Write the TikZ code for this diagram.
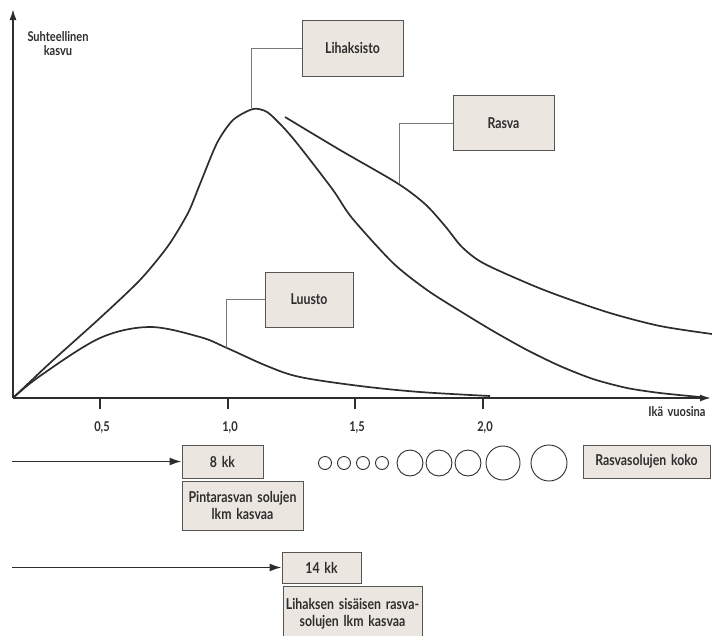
\documentclass[tikz,border=0pt]{standalone}
\usepackage{fontspec}
\setmainfont{Lato}[FakeStretch=0.82,WordSpace=1.6]
\usetikzlibrary{arrows.meta}
\definecolor{boxfill}{RGB}{236,230,225}
\definecolor{boxline}{RGB}{85,85,85}
\definecolor{ink}{RGB}{45,45,45}
\definecolor{leader}{RGB}{120,120,120}
\tikzset{
  lbl/.style={draw=boxline,line width=1pt,fill=boxfill,text=ink,inner sep=0pt,font=\bfseries\fontsize{15}{17}\selectfont,align=center},
  curve/.style={draw=ink,line width=1.7pt,line join=round},
  axis/.style={draw=ink,line width=1.6pt,-{Latex[length=11pt,width=7pt]}},
  lead/.style={draw=leader,line width=0.8pt},
  tick/.style={draw=ink,line width=1.2pt},
  small/.style={text=ink,font=\bfseries\fontsize{13.5}{16}\selectfont,align=center},
  cell/.style={draw=ink,line width=0.9pt,circle,inner sep=0pt},
  harrow/.style={draw=ink,line width=1.6pt,-{Latex[length=12pt,width=8pt]}}
}
\begin{document}
\begin{tikzpicture}[x=1pt,y=-1pt]
\useasboundingbox (0,0) rectangle (712,635);
\clip (0,0) rectangle (712,635);
% axes
\coordinate (o) at (13,398);
\coordinate (ytop) at (13,9);
\coordinate (xend) at (711,398);
\draw[axis] (o) -- (ytop);
\draw[axis] (o) -- (xend);
% ticks
\foreach \x/\t/\n in {100/{0,5}/a,228/{1,0}/b,355/{1,5}/c,483/{2,0}/d}{
  \coordinate (t\n) at (\x,398);
  \coordinate (tb\n) at (\x,409);
  \draw[tick] (t\n) -- (tb\n);
  \node[small] (tl\n) at (\x+2,428) {\t};
}
\node[small] (ylab) at (58,44) {Suhteellinen\\[-2pt]kasvu};
\node[small] (xlab) at (677,412) {Ikä vuosina};
% curves
\draw[curve] plot[smooth,tension=0.45] coordinates {(13,398) (50,363) (100,318) (140,280) (168,246) (188,213) (200,184) (217,143) (233,120) (253,109) (267,112) (283,127) (300,147) (333,190) (352,218) (393,263) (427,290) (460,311) (493,331) (527,350) (560,366) (593,379) (627,388) (660,393) (700,397)};
\draw[curve] plot[smooth,tension=0.55] coordinates {(13,398) (40,376) (100,338) (150,327) (200,337) (227,348) (267,366) (300,377) (360,386) (420,392) (490,396)};
\draw[curve] plot[smooth,tension=0.5] coordinates {(285,117) (340,150) (397,183) (425,204) (445,226) (462,247) (483,263) (527,283) (560,296) (610,313) (660,326) (712,334)};
% labels with leaders
\node[lbl,minimum width=101pt,minimum height=56pt] (lih) at (352.5,48) {Lihaksisto};
\node[lbl,minimum width=101pt,minimum height=55pt] (ras) at (503.5,123) {Rasva};
\node[lbl,minimum width=88pt,minimum height=55pt] (luu) at (309,299.5) {Luusto};
\coordinate (lihp) at (251,108);
\coordinate (rasp) at (399,184);
\coordinate (luup) at (226,348);
\draw[lead] (lih.west) -| (lihp);
\draw[lead] (ras.west) -| (rasp);
\draw[lead] (luu.west) -| (luup);
% bottom
\node[lbl,minimum width=81pt,minimum height=33pt] (k8) at (222.5,461.5) {8 kk};
\node[lbl,minimum width=121pt,minimum height=49pt] (pin) at (242.5,505.5) {Pintarasvan solujen\\lkm kasvaa};
\node[lbl,minimum width=79pt,minimum height=31pt] (k14) at (321.5,567.5) {14 kk};
\node[lbl,minimum width=139pt,minimum height=54pt,anchor=north] (lis) at (352.5,586) {\rule{0pt}{12pt}Lihaksen sisäisen rasva-\\solujen lkm kasvaa};
\node[lbl,minimum width=127pt,minimum height=33pt] (koko) at (646.5,461.5) {Rasvasolujen koko};
\coordinate (a1) at (12,461.5);
\coordinate (a2) at (12,567.5);
\draw[harrow] (a1) -- (k8.west);
\draw[harrow] (a2) -- (k14.west);
% cells
\foreach \x/\r/\n in {325/6.5/1,344/6.5/2,363/6.5/3,382/6.5/4,410/13/5,439/13/6,468/13/7,503/17/8,549/18/9}{
  \node[cell,minimum size=2*\r pt] (c\n) at (\x,463) {};
}
\end{tikzpicture}
\end{document}
